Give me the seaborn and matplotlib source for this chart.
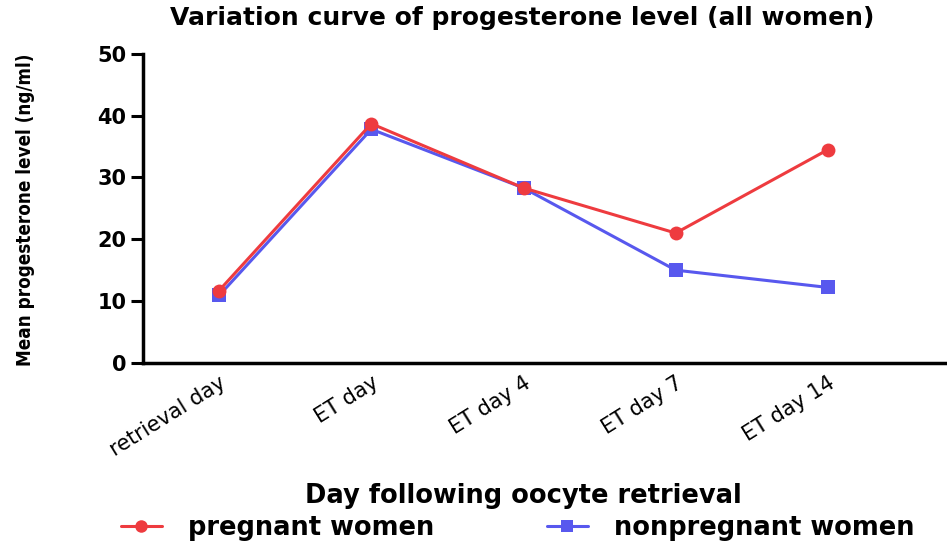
import matplotlib
matplotlib.use("Agg")
import matplotlib.pyplot as plt
from matplotlib.lines import Line2D
import seaborn as sns
import pandas as pd

days = ["retrieval day", "ET day", "ET day 4", "ET day 7", "ET day 14"]
pregnant = [11.7, 38.7, 28.3, 21.0, 34.5]
nonpregnant = [10.9, 37.8, 28.3, 15.0, 12.2]
series_names = ["pregnant women", "nonpregnant women"]
yticks = [0, 10, 20, 30, 40, 50]

RED = "#EE3B3F"
BLUE = "#5858EE"

sns.set_style("ticks")
plt.rcParams["font.family"] = ["DejaVu Sans"]
plt.rcParams["text.color"] = "black"
plt.rcParams["xtick.color"] = "black"
plt.rcParams["ytick.color"] = "black"

df = pd.DataFrame({
    "day": days * 2,
    "x": list(range(len(days))) * 2,
    "value": pregnant + nonpregnant,
    "group": [series_names[0]] * len(days) + [series_names[1]] * len(days),
})

fig = plt.figure(figsize=(9.47, 5.44), dpi=100)
ax = fig.add_axes([0.151, 0.333, 0.847, 0.568])

sns.lineplot(data=df, x="x", y="value", hue="group", style="group",
             hue_order=series_names[::-1], style_order=series_names[::-1],
             palette={series_names[0]: RED, series_names[1]: BLUE},
             markers={series_names[0]: "o", series_names[1]: "s"},
             dashes=False, markersize=10, linewidth=2.2, markeredgewidth=0,
             legend=False, ax=ax)

ax.set_xlim(-0.5, 4.77)
ax.set_ylim(0, 50)
ax.set_yticks(yticks)
ax.set_yticklabels([str(t) for t in yticks], fontsize=15, fontweight="bold",
                   family="DejaVu Sans")
ax.set_xticks(range(len(days)))
ax.set_xticklabels(days, rotation=32, ha="right", rotation_mode="anchor",
                   fontsize=15, family="DejaVu Sans", fontstretch="normal")
ax.tick_params(axis="x", length=0, pad=7)
ax.tick_params(axis="y", length=9, width=2.2, pad=3)
for s in ["top", "right"]:
    ax.spines[s].set_visible(False)
for s in ["left", "bottom"]:
    ax.spines[s].set_linewidth(2.5)
    ax.spines[s].set_color("black")
ax.set_xlabel("")
ax.set_ylabel("")

fig.text(0.551, 0.966, "Variation curve of progesterone level (all women)",
         ha="center", va="center", fontsize=18, fontweight="bold",
         family="DejaVu Sans")
fig.text(0.027, 0.614, "Mean progesterone level (ng/ml)", rotation=90,
         ha="center", va="center", fontsize=13.5, family="DejaVu Sans",
         fontstretch="condensed", fontweight="bold")
fig.text(0.553, 0.088, "Day following oocyte retrieval", ha="center",
         va="center", fontsize=18.5, fontweight="bold", family="DejaVu Sans")

handles = [Line2D([], [], color=RED, marker="o", markersize=9, lw=2.2, markeredgewidth=0),
           Line2D([], [], color=BLUE, marker="s", markersize=8, lw=2.2, markeredgewidth=0)]
fig.legend(handles, series_names, loc="center left", bbox_to_anchor=(0.114, 0.029),
           ncol=2, frameon=False, borderpad=0, columnspacing=4.4, handlelength=1.6,
           handletextpad=1.0, prop={"family": "DejaVu Sans", "weight": "bold", "size": 18.5})

fig.savefig("out.png", dpi=100)
